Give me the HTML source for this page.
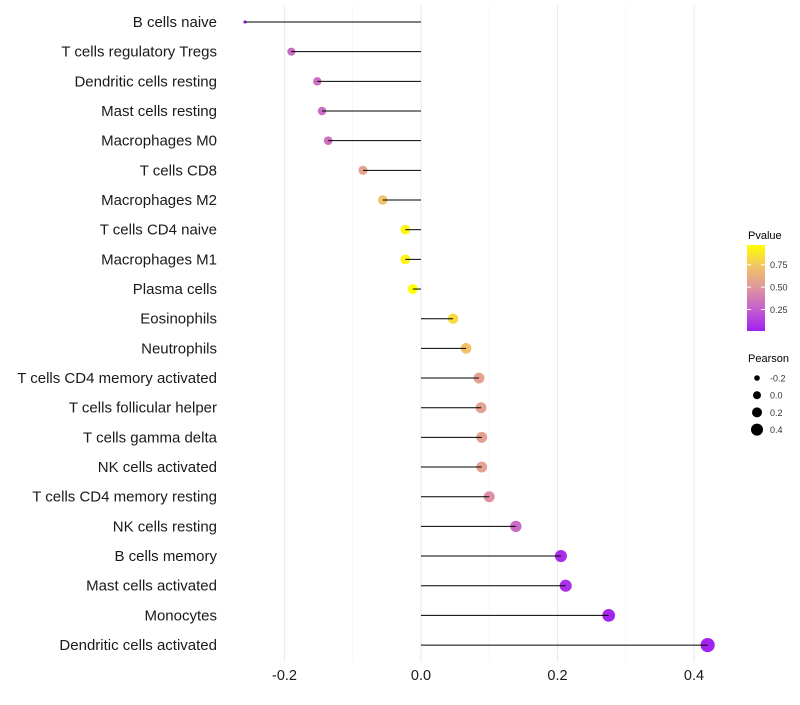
<!DOCTYPE html>
<html><head><meta charset="utf-8"><style>
body{margin:0;background:#fff;font-family:"Liberation Sans",sans-serif}
svg text{font-family:"Liberation Sans",sans-serif}
</style></head><body>
<svg id="c" width="800" height="700"></svg>
<script>
const categories=["B cells naive","T cells regulatory  Tregs","Dendritic cells resting","Mast cells resting","Macrophages M0","T cells CD8","Macrophages M2","T cells CD4 naive","Macrophages M1","Plasma cells","Eosinophils","Neutrophils","T cells CD4 memory activated","T cells follicular helper","T cells gamma delta","NK cells activated","T cells CD4 memory resting","NK cells resting","B cells memory","Mast cells activated","Monocytes","Dendritic cells activated"];
const pearson=[-0.258,-0.19,-0.152,-0.145,-0.136,-0.085,-0.056,-0.023,-0.023,-0.012,0.047,0.066,0.085,0.088,0.089,0.089,0.1,0.139,0.205,0.212,0.275,0.42];
const pvalues=[0.05,0.3,0.32,0.32,0.33,0.56,0.72,0.93,0.92,0.97,0.82,0.72,0.56,0.55,0.55,0.55,0.47,0.3,0.06,0.07,0.03,0.02];
const xTicks=[-0.2,0.0,0.2,0.4];
const xMinor=[-0.1,0.1,0.3];
const pTicks=[0.25,0.5,0.75];
const sizeTicks=[-0.2,0.0,0.2,0.4];
const NS="http://www.w3.org/2000/svg",svg=document.getElementById('c');
function el(t,a,p){const e=document.createElementNS(NS,t);for(const k in a)e.setAttribute(k,a[k]);(p||svg).appendChild(e);return e;}
const x=v=>421+v*682.5;
const y=i=>22+i*29.67;
const r=v=>v<-0.22?1.6:5+5*v;
const pMin=0.01,pMax=0.97;
const stops=[[0,[160,32,240]],[0.25,[196,95,207]],[0.5,[222,149,160]],[0.75,[243,195,102]],[1,[255,255,0]]];
function col(p){const t=Math.min(1,Math.max(0,(p-pMin)/(pMax-pMin)));
 let k=0;while(k<stops.length-2&&t>stops[k+1][0])k++;
 const a=stops[k],b=stops[k+1];const u=(t-a[0])/(b[0]-a[0]);
 return 'rgb('+a[1].map((c,j)=>Math.round(c+(b[1][j]-c)*u)).join(',')+')';}
const g=el('g',{});
xMinor.forEach(v=>el('line',{x1:x(v),x2:x(v),y1:5,y2:662,stroke:'#f2f2f2','stroke-width':0.6},g));
xTicks.forEach(v=>el('line',{x1:x(v),x2:x(v),y1:5,y2:662,stroke:'#ebebeb','stroke-width':1.1},g));
categories.forEach((c,i)=>{
 const t=el('text',{x:217,y:y(i)+5,'text-anchor':'end','font-size':15,fill:'#1a1a1a'});t.textContent=c;
 
 const d=el('circle',{cx:x(pearson[i]),cy:y(i),r:r(pearson[i]),fill:col(pvalues[i])});
 
 const l=el('line',{x1:x(0),x2:x(pearson[i]),y1:y(i),y2:y(i),stroke:'#000','stroke-width':1});
 
});
xTicks.forEach(v=>{const t=el('text',{x:x(v),y:680,'text-anchor':'middle','font-size':14.5,fill:'#1a1a1a'});t.textContent=v.toFixed(1);
 });
const lt=el('text',{x:748,y:239,'font-size':11});lt.textContent='Pvalue';
const defs=el('defs',{});const lg=el('linearGradient',{id:'gr',x1:0,y1:1,x2:0,y2:0},defs);
for(let k=0;k<=20;k++){el('stop',{offset:k/20,'stop-color':col(pMin+(pMax-pMin)*k/20)},lg);}
const py=p=>331-(p-pMin)/(pMax-pMin)*86;
const bar=el('rect',{x:747,y:245,width:18,height:86,fill:'url(#gr)'});
pTicks.forEach(p=>{el('line',{x1:747,x2:751,y1:py(p),y2:py(p),stroke:'#fff'});el('line',{x1:761,x2:765,y1:py(p),y2:py(p),stroke:'#fff'});
 const t=el('text',{x:770,y:py(p)+3.5,'font-size':9,fill:'#333'});t.textContent=p.toFixed(2);});
const st=el('text',{x:748,y:362,'font-size':11});st.textContent='Pearson';
const legR=[2.8,4,5,6];
sizeTicks.forEach((v,k)=>{const cy=378+k*17.2;el('circle',{cx:757,cy:cy,r:legR[k],fill:'#000'});
 const t=el('text',{x:770,y:cy+3.5,'font-size':9,fill:'#333'});t.textContent=v.toFixed(1);});
</script></body></html>
